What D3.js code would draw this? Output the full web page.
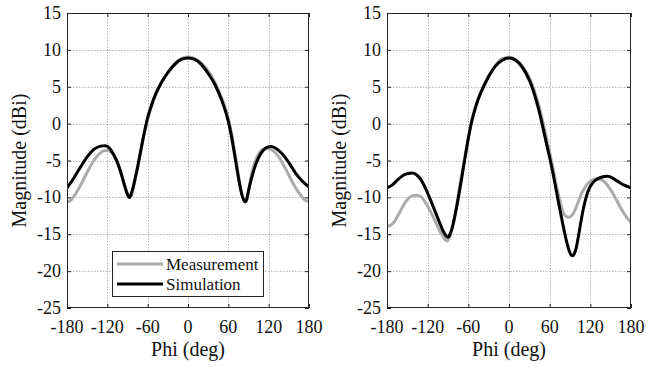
<!DOCTYPE html>
<html><head><meta charset="utf-8">
<script src="https://cdn.jsdelivr.net/npm/d3@7"></script>
</head><body style="margin:0">
<svg id="chart" width="646" height="367"></svg>
<script>
// ---------- data ----------
const xTicks = [-180, -120, -60, 0, 60, 120, 180];
const yTicks = [15, 10, 5, 0, -5, -10, -15, -20, -25];
const seriesNames = ["Measurement", "Simulation"];

// Left panel
const leftMeasPhi = [-180,-176,-170,-160,-150,-140,-132,-126,-120,-114,-108,-102,-97,-92,-88.5,-86,-84,-81,-78,-73,-68,-63,-58,-53,-48,-38,-28,-18,-8,1,11,21,31,41,51,56,61,66,71,76,80,83.5,86,88.5,91,95,100,106,113,120,127,135,145,155,165,172,177,180];
const leftMeasMag = [-10.6,-10.5,-9.9,-8.4,-6.6,-5.0,-4.1,-3.7,-3.6,-3.9,-4.7,-6.0,-7.5,-9.0,-9.8,-10.0,-9.7,-8.6,-7.3,-5.1,-2.7,-0.5,1.3,2.7,3.9,5.8,7.2,8.3,8.9,9.05,8.8,8.1,7.0,5.4,3.3,2.0,0.3,-1.9,-4.7,-7.5,-9.5,-10.4,-10.6,-10.0,-8.6,-6.7,-5.1,-4.0,-3.45,-3.4,-3.7,-4.5,-6.1,-7.9,-9.4,-10.2,-10.5,-10.5];

const leftSimPhi = [-180,-170,-160,-150,-140,-130,-123,-116,-110,-104,-99,-95,-91,-88.5,-87,-85.5,-83,-80,-75,-70,-65,-60,-55,-50,-40,-30,-20,-10,0,10,20,30,40,50,55,60,65,70,75,79,82.5,85,87.5,90,94,99,105,112,118,123,130,140,150,160,170,180];
const leftSimMag = [-8.7,-7.4,-5.9,-4.5,-3.5,-3.05,-3.0,-3.4,-4.3,-5.5,-6.9,-8.2,-9.4,-9.9,-10.0,-9.8,-9.1,-8.0,-5.9,-3.5,-1.2,0.8,2.3,3.6,5.5,6.9,8.0,8.7,8.9,8.7,8.0,6.8,5.3,3.2,1.9,0.3,-1.9,-4.6,-7.3,-9.2,-10.3,-10.6,-10.2,-9.1,-7.6,-6.0,-4.6,-3.6,-3.2,-3.1,-3.3,-4.1,-5.3,-6.7,-7.8,-8.6];

// Right panel
const rightMeasPhi = [-180,-176,-171,-164,-157,-150,-143,-136,-130,-124,-117,-110,-103,-98,-94,-91,-88,-85,-81,-77,-72,-67,-62,-57,-52,-47,-40,-30,-20,-10,0,10,20,30,35,40,45,50,55,60,65,70,75,79,83,87,91,96,101,107,113,120,128,135,141,148,156,164,172,180];
const rightMeasMag = [-13.8,-13.85,-13.5,-12.5,-11.3,-10.3,-9.8,-9.7,-9.9,-10.6,-11.7,-13.0,-14.4,-15.2,-15.75,-15.9,-15.5,-14.6,-13.0,-10.9,-8.1,-5.5,-2.9,-0.5,1.5,3.0,4.7,6.5,7.9,8.8,9.0,8.7,7.8,6.2,5.1,3.7,2.1,0.2,-1.8,-3.9,-6.1,-8.4,-10.4,-11.8,-12.5,-12.7,-12.6,-12.0,-10.9,-9.5,-8.5,-7.8,-7.5,-7.55,-7.9,-8.7,-9.9,-11.3,-12.5,-13.4];

const rightSimPhi = [-180,-172,-164,-156,-149,-143,-137,-130,-123,-116,-109,-102,-97,-93,-90,-87,-84,-80,-75,-70,-65,-60,-55,-50,-45,-40,-30,-20,-10,0,10,20,30,35,40,45,50,55,60,65,70,75,80,85,89,92,94,96,99,102,105,110,115,120,127,135,145,152,160,170,180];
const rightSimMag = [-8.7,-8.3,-7.6,-7.0,-6.75,-6.7,-6.9,-7.6,-8.8,-10.3,-11.9,-13.5,-14.6,-15.2,-15.4,-15.0,-14.2,-12.6,-10.2,-7.5,-4.7,-2.0,0.3,2.0,3.4,4.5,6.4,7.8,8.6,8.9,8.6,7.6,5.9,4.7,3.2,1.5,-0.5,-2.6,-4.6,-6.8,-9.2,-11.6,-13.9,-16.0,-17.3,-17.85,-17.9,-17.7,-16.9,-15.5,-13.9,-11.4,-9.6,-8.5,-7.7,-7.3,-7.15,-7.35,-7.8,-8.35,-8.7];

// ---------- layout ----------
const FONT = "Liberation Serif";
const svg = d3.select("#chart");
const colors = { Measurement: "#ababab", Simulation: "#000000" };
const panels = [
  { x0: 67, x1: 309, labelX: 26, meas: [leftMeasPhi, leftMeasMag], sim: [leftSimPhi, leftSimMag], legend: true },
  { x0: 387, x1: 631, labelX: 346, meas: [rightMeasPhi, rightMeasMag], sim: [rightSimPhi, rightSimMag], legend: false }
];
const y0 = 13, y1 = 308;

// all text goes through this helper, styled like plain svg text
function label(parent, txt, size, xPos, yPos, anchor, rotate) {
  const t = parent.append("text")
    .attr("x", xPos).attr("y", yPos)
    .attr("font-size", size)
    .attr("text-anchor", anchor)
    .attr("fill", "#111")
    .style("font-family", FONT)
    .text(txt);
  if (rotate) t.attr("transform", `rotate(-90 ${xPos} ${yPos})`);
  return t;
}

panels.forEach((p, i) => {
  const x = d3.scaleLinear().domain([-180, 180]).range([p.x0, p.x1]);
  const y = d3.scaleLinear().domain([-25, 15]).range([y1, y0]);
  const g = svg.append("g");

  // grid
  const grid = g.append("g").attr("stroke", "#b4b4b4").attr("stroke-width", 1).attr("stroke-dasharray", "1.5,1.5");
  grid.selectAll(".gx").data(xTicks.slice(1, -1)).join("line")
    .attr("x1", d => Math.round(x(d)) + 0.5).attr("x2", d => Math.round(x(d)) + 0.5)
    .attr("y1", y0).attr("y2", y1);
  grid.selectAll(".gy").data(yTicks.slice(1, -1)).join("line")
    .attr("y1", d => Math.round(y(d)) + 0.5).attr("y2", d => Math.round(y(d)) + 0.5)
    .attr("x1", p.x0).attr("x2", p.x1);

  // clip
  const clipId = "clip" + i;
  svg.append("clipPath").attr("id", clipId).append("rect")
    .attr("x", p.x0).attr("y", y0).attr("width", p.x1 - p.x0).attr("height", y1 - y0);

  const line = d3.line().x(d => x(d[0])).y(d => y(d[1])).curve(d3.curveMonotoneX);
  const series = [
    { name: "Measurement", phi: p.meas[0], mag: p.meas[1] },
    { name: "Simulation", phi: p.sim[0], mag: p.sim[1] }
  ];
  g.append("g").attr("clip-path", `url(#${clipId})`).selectAll("path").data(series).join("path")
    .attr("d", s => line(s.phi.map((v, k) => [v, s.mag[k]])))
    .attr("fill", "none")
    .attr("stroke", s => colors[s.name])
    .attr("stroke-width", 3)
    .attr("stroke-linejoin", "round");

  // inward ticks on all four sides via d3 axes (labels drawn separately)
  const axes = [
    g.append("g").attr("transform", `translate(0,${y1})`).call(d3.axisBottom(x).tickValues(xTicks).tickSize(-4).tickSizeOuter(0).tickFormat("")),
    g.append("g").attr("transform", `translate(${p.x0},0)`).call(d3.axisLeft(y).tickValues(yTicks).tickSize(-4).tickSizeOuter(0).tickFormat("")),
    g.append("g").attr("transform", `translate(0,${y0})`).call(d3.axisTop(x).tickValues(xTicks).tickSize(-4).tickSizeOuter(0).tickFormat("")),
    g.append("g").attr("transform", `translate(${p.x1},0)`).call(d3.axisRight(y).tickValues(yTicks).tickSize(-4).tickSizeOuter(0).tickFormat(""))
  ];
  axes.forEach(a => {
    a.selectAll(".tick line").attr("stroke", "#262626");
    a.selectAll("text").remove();
    a.select("path.domain").remove();
  });
  g.append("rect").attr("x", p.x0 + 0.5).attr("y", y0 + 0.5).attr("width", p.x1 - p.x0 - 1).attr("height", y1 - y0 - 1)
    .attr("fill", "none").attr("stroke", "#262626").attr("stroke-width", 1);

  // tick labels from the scales
  const tl = g.append("g");
  xTicks.forEach(t => label(tl, String(t), 18, x(t), 333, "middle"));
  yTicks.forEach(t => label(tl, String(t), 18, p.x0 - 6, y(t) + 6, "end"));

  // axis titles
  label(g, "Phi (deg)", 20, (p.x0 + p.x1) / 2, 356, "middle");
  label(g, "Magnitude (dBi)", 20, p.labelX, (y0 + y1) / 2, "middle", true);

  // legend
  if (p.legend) {
    const lg = g.append("g");
    lg.append("rect").attr("x", 112.5).attr("y", 251.5).attr("width", 151).attr("height", 45)
      .attr("fill", "#fff").attr("stroke", "#262626").attr("stroke-width", 1);
    seriesNames.forEach((n, k) => {
      const ly = 264 + k * 20;
      lg.append("line").attr("x1", 117).attr("x2", 163).attr("y1", ly).attr("y2", ly)
        .attr("stroke", colors[n]).attr("stroke-width", 3);
      label(lg, n, 17, 166, ly + 6, "start");
    });
  }
});
</script>
</body></html>
